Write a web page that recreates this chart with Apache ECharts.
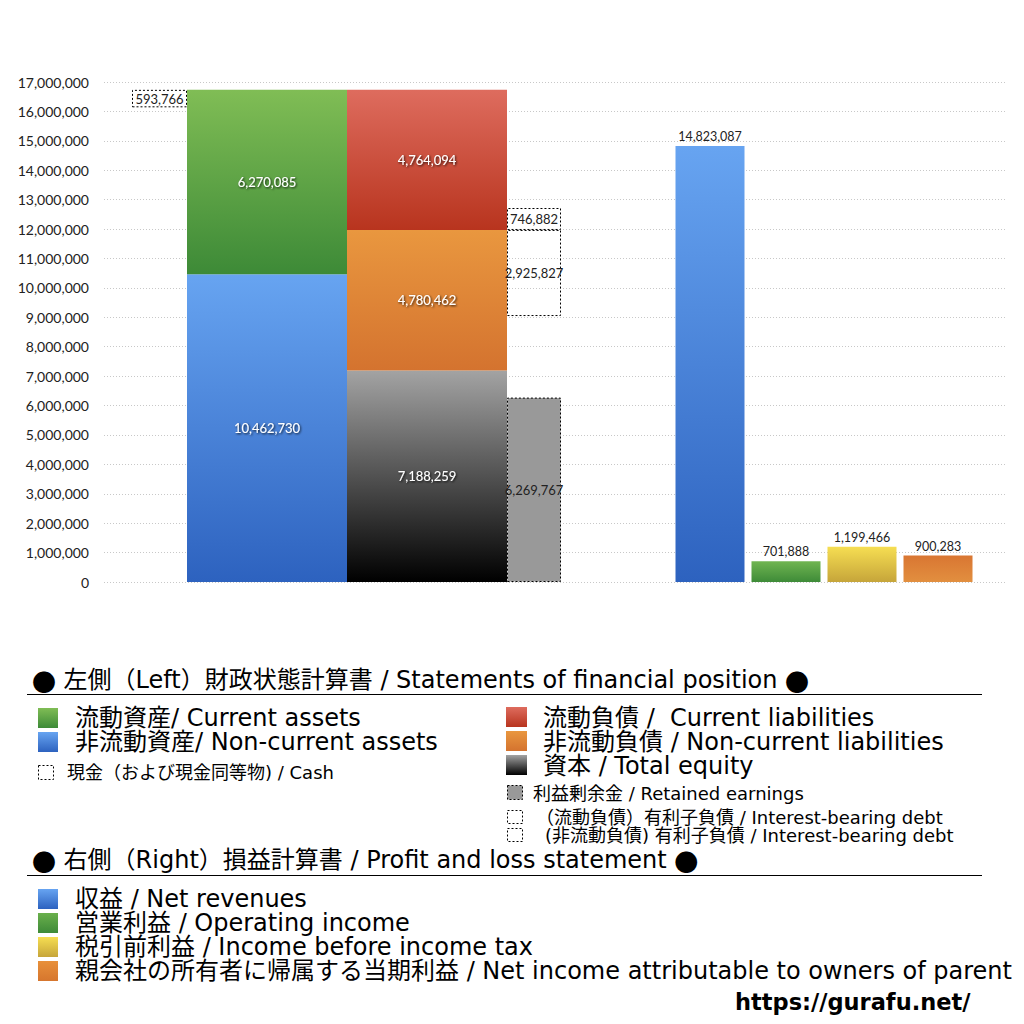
<!DOCTYPE html>
<html>
<head>
<meta charset="utf-8">
<script src="https://cdn.jsdelivr.net/npm/echarts@6/dist/echarts.min.js"></script>
<style>
html,body{margin:0;padding:0;background:#fff;}
#c{width:1024px;height:1024px;}
</style>
</head>
<body>
<div id="c"></div>
<script>
// ---- Data ----
var yTicks = [0,1000000,2000000,3000000,4000000,5000000,6000000,7000000,8000000,9000000,10000000,11000000,12000000,13000000,14000000,15000000,16000000,17000000];
var bsCategory = ['財政状態計算書'];
var cash = [593766];
var nonCurrentAssets = [10462730];
var currentAssets = [6270085];
var totalEquity = [7188259];
var nonCurrentLiabilities = [4780462];
var currentLiabilities = [4764094];
var retainedEarnings = [6269767];
var ibdNonCurrent = [2925827];
var ibdCurrent = [746882];
var plCategories = ['収益','営業利益','税引前利益','親会社の所有者に帰属する当期利益'];
var plValues = [14823087, 701888, 1199466, 900283];

var leftHeader = ['左側（Left）財政状態計算書 / Statements of financial position'];
var rightHeader = ['右側（Right）損益計算書 / Profit and loss statement'];
var legendLeftA = ['流動資産/ Current assets','非流動資産/ Non-current assets'];
var legendLeftB = ['現金（および現金同等物) / Cash'];
var legendMidA = ['流動負債 /  Current liabilities','非流動負債 / Non-current liabilities','資本 / Total equity'];
var legendMidB = ['利益剰余金 / Retained earnings','（流動負債）有利子負債 / Interest-bearing debt','(非流動負債) 有利子負債 / Interest-bearing debt'];
var legendPL = ['収益 / Net revenues','営業利益 / Operating income','税引前利益 / Income before income tax','親会社の所有者に帰属する当期利益 / Net income attributable to owners of parent'];
var siteUrl = 'https://gurafu.net/';

// ---- Styles ----
function grad(top, bottom){
  return {type:'linear',x:0,y:0,x2:0,y2:1,colorStops:[{offset:0,color:top},{offset:1,color:bottom}]};
}
var C = {
  green: grad('#80bd55','#3d8a37'),
  blue: grad('#67a4f1','#2d62bf'),
  red: grad('#de6c5e','#b8341e'),
  orange: grad('#e9973f','#d4732f'),
  black: grad('#a3a3a3','#000000'),
  yellow: grad('#f6de52','#c6a53a')
};
var plColors = [C.blue, grad('#70b551','#3e8b38'), C.yellow, grad('#d97632','#e28f3f')];

var numFont = 'Lato, "Open Sans", sans-serif';
var txtFont = '"DejaVu Sans", "Noto Sans CJK JP", sans-serif';
var jpFont = '"Noto Sans CJK JP", sans-serif';
function fmt(v){ return Number(v).toLocaleString('en-US'); }

var whiteLabel = {show:true, position:'inside', color:'#fff', fontSize:13, fontFamily:numFont,
  textShadowColor:'rgba(0,0,0,0.85)', textShadowBlur:2, textShadowOffsetX:1, textShadowOffsetY:1,
  formatter:function(p){return fmt(p.value);}};
var darkLabel = {show:true, position:'inside', color:'#222', fontSize:13, fontFamily:numFont,
  formatter:function(p){return fmt(p.value);}};
var dotBox = {color:'transparent', borderColor:'#000', borderWidth:1, borderType:[2,2]};

var totalAssets = nonCurrentAssets.map(function(v,i){return v+currentAssets[i];});
var cashBase = totalAssets.map(function(v,i){return v-cash[i];});
var ibdGap = totalEquity.map(function(v,i){return v+nonCurrentLiabilities[i]-ibdNonCurrent[i]-retainedEarnings[i];});

var chart = echarts.init(document.getElementById('c'), null, {renderer:'svg'});

var yCommon = {type:'value', min:0, max:17000000, interval:1000000};
var gTop = 82, gBottom = 442;

function bar(name, stack, data, width, style, label, xi){
  return {name:name, type:'bar', stack:stack, data:data, barWidth:width, barGap:'0%',
    xAxisIndex:xi, yAxisIndex:xi, itemStyle:style, label:label||{show:false},
    emphasis:{disabled:true}, silent: !label};
}

var series = [
  bar('cashBase','cash',cashBase,55,{color:'transparent'},null,1),
  bar('現金 / Cash','cash',cash,55,dotBox,darkLabel,1),
  bar('非流動資産/ Non-current assets','assets',nonCurrentAssets,160,{color:C.blue},whiteLabel,1),
  bar('流動資産/ Current assets','assets',currentAssets,160,{color:C.green},whiteLabel,1),
  bar('資本 / Total equity','liab',totalEquity,160,{color:C.black},whiteLabel,1),
  bar('非流動負債 / Non-current liabilities','liab',nonCurrentLiabilities,160,{color:C.orange},whiteLabel,1),
  bar('流動負債 / Current liabilities','liab',currentLiabilities,160,{color:C.red},whiteLabel,1),
  bar('利益剰余金 / Retained earnings','extra',retainedEarnings,54,{color:'#999999',borderColor:'#000',borderWidth:1,borderType:[2,2]},darkLabel,1),
  bar('ibdGap','extra',ibdGap,54,{color:'transparent'},null,1),
  bar('(非流動負債) 有利子負債','extra',ibdNonCurrent,54,dotBox,darkLabel,1),
  bar('(流動負債) 有利子負債','extra',ibdCurrent,54,dotBox,darkLabel,1),
  {name:'損益計算書', type:'bar', xAxisIndex:2, yAxisIndex:2, barWidth:69,
   data: plValues.map(function(v,i){return {value:v, itemStyle:{color:plColors[i]}};}),
   label:{show:true, position:'top', distance:3, color:'#222', fontSize:12.5, fontFamily:numFont,
     formatter:function(p){return fmt(p.value);}},
   emphasis:{disabled:true}}
];

// ---- Legend graphics ----
var g = [];
function txt(x,y,text,size){
  g.push({type:'text', x:x, y:y, style:{text:text, font:size+'px '+txtFont, fill:'#000', verticalAlign:'middle', align:'left'}});
}
function header(x,y,text){
  g.push({type:'text', x:x, y:y, style:{text:'{c|●} '+text+' {c|●}', font:'24px '+txtFont, fill:'#000',
    verticalAlign:'middle', align:'left', rich:{c:{font:'24px '+jpFont, fill:'#000'}}}});
}
function sq(x,y,w,h,fill,dotted){
  var st = {fill:fill};
  if(dotted){ st.stroke='#000'; st.lineWidth=1; st.lineDash=[2,2]; }
  g.push({type:'rect', shape:{x:x,y:y,width:w,height:h}, style:st});
}
function hline(y){ g.push({type:'line', shape:{x1:27,y1:y,x2:982,y2:y}, style:{stroke:'#000', lineWidth:1}}); }

header(32,680,leftHeader[0]); hline(694.5);
var lA = [C.green, C.blue];
legendLeftA.forEach(function(t,i){ sq(38,708+i*24,20,20,lA[i]); txt(75,718+i*24,t,24); });
sq(38.5,765.5,15,14,'transparent',true); txt(67,772,legendLeftB[0],18);
var mA = [C.red, C.orange, C.black];
legendMidA.forEach(function(t,i){ sq(506,707+i*24,21,20,mA[i]); txt(543,718+i*24,t,24); });
sq(507.5,785.5,15,14,'#999999',true); txt(533,793,legendMidB[0],18);
sq(507.5,810.5,15,13,'transparent',true); txt(536,817,legendMidB[1],18);
sq(507.5,828.5,15,13,'transparent',true); txt(545,835,legendMidB[2],18);
header(32,860,rightHeader[0]); hline(875.5);
var pc = [C.blue, grad('#6ab04c','#3e8a38'), C.yellow, grad('#e8903a','#d6762e')];
legendPL.forEach(function(t,i){ sq(38,889+i*24,20,20,pc[i]); txt(75,899+i*24,t,24); });
g.push({type:'text', x:735, y:1002, style:{text:siteUrl, font:'bold 22.5px "DejaVu Sans", sans-serif', fill:'#000', verticalAlign:'middle'}});

chart.setOption({
  animation:false,
  backgroundColor:'#fff',
  grid:[
    {left:104, right:19, top:gTop, bottom:gBottom},
    {left:104, right:435, top:gTop, bottom:gBottom},
    {left:672, right:48, top:gTop, bottom:gBottom}
  ],
  xAxis:[
    {type:'category', gridIndex:0, data:[''], show:false},
    {type:'category', gridIndex:1, data:bsCategory, show:false},
    {type:'category', gridIndex:2, data:plCategories, show:false}
  ],
  yAxis:[
    Object.assign({gridIndex:0, axisLine:{show:false}, axisTick:{show:false},
      axisLabel:{color:'#222', fontSize:14, fontFamily:numFont, margin:15, formatter:function(v){return fmt(v);}},
      splitLine:{show:true, lineStyle:{color:'#c8c8c8', type:[1,2], width:1}}}, yCommon),
    Object.assign({gridIndex:1, show:false, splitLine:{show:false}}, yCommon),
    Object.assign({gridIndex:2, show:false, splitLine:{show:false}}, yCommon)
  ],
  series: series,
  graphic: g
});
</script>
</body>
</html>
